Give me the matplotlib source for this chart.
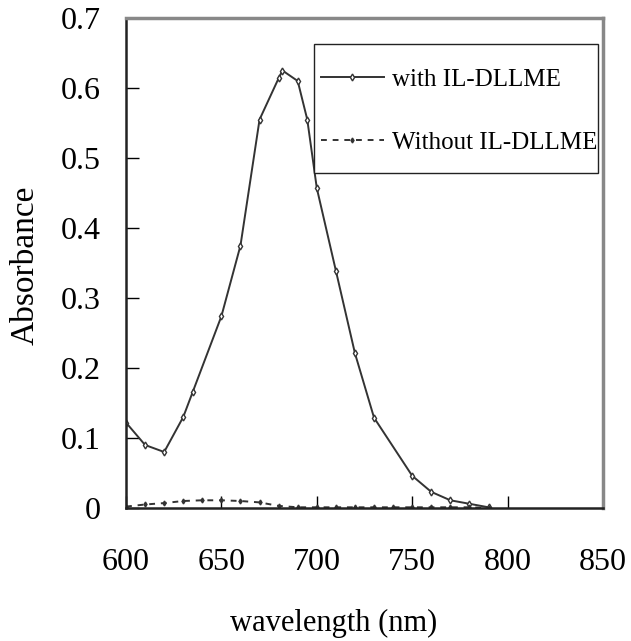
""" Absorption spectra with and without IL-DLLME. """

import matplotlib
matplotlib.use("Agg")
import matplotlib.pyplot as plt
from matplotlib.patches import Rectangle

plt.rcParams['font.family'] = ['Liberation Serif', 'DejaVu Serif']

# with IL-DLLME
wl_with = [600, 610, 620, 630, 635, 650, 660, 670, 680, 682, 690, 695,
           700, 710, 720, 730, 750, 760, 770, 780, 790]
abs_with = [0.122, 0.090, 0.080, 0.130, 0.166, 0.274, 0.375, 0.555, 0.614, 0.625,
            0.610, 0.555, 0.457, 0.339, 0.221, 0.129, 0.046, 0.023, 0.011, 0.006, 0.001]

# without IL-DLLME
wl_without = [600, 610, 620, 630, 640, 650, 660, 670, 680, 690, 700, 710,
              720, 730, 740, 750, 760, 770, 780, 790]
abs_without = [0.002, 0.005, 0.007, 0.010, 0.011, 0.011, 0.010, 0.008, 0.003, 0.001,
               0.001, 0.001, 0.001, 0.001, 0.001, 0.001, 0.001, 0.001, 0.001, 0.0]

x_ticks = [600, 650, 700, 750, 800, 850]
y_ticks = [0, 0.1, 0.2, 0.3, 0.4, 0.5, 0.6, 0.7]
y_tick_labels = ['0', '0.1', '0.2', '0.3', '0.4', '0.5', '0.6', '0.7']

fig = plt.figure(figsize=(6.31, 6.41), dpi=100)
ax = fig.add_axes([0.1997, 0.2075, 0.7559, 0.7644])

ax.plot(wl_with, abs_with, color='#333333', linewidth=1.4,
        marker='d', markersize=3.5, markerfacecolor='white',
        markeredgecolor='#333333', label='with IL-DLLME')
ax.plot(wl_without, abs_without, color='#333333', linewidth=1.4,
        linestyle=(0, (3, 3)), marker='d', markersize=2.5,
        label='Without IL-DLLME')

ax.set_xlim(600, 850)
ax.set_ylim(0, 0.7)
ax.set_xticks(x_ticks)
ax.set_yticks(y_ticks)
ax.set_yticklabels(y_tick_labels)
ax.tick_params(axis='both', direction='in', length=9, width=1, labelsize=23)
ax.tick_params(axis='x', pad=29)
ax.tick_params(axis='y', pad=18)

for side in ['top', 'right']:
    ax.spines[side].set_color('#888888')
    ax.spines[side].set_linewidth(2.5)
for side in ['left', 'bottom']:
    ax.spines[side].set_color('#222222')
    ax.spines[side].set_linewidth(1.8)

ax.set_xlabel('wavelength (nm)', fontsize=22)
ax.xaxis.set_label_coords(0.436, -0.205)
ax.set_ylabel('Absorbance', fontsize=24)
ax.yaxis.set_label_coords(-0.18, 0.496)

# legend box drawn separately so its padding matches the original
ax.add_patch(Rectangle((0.394, 0.684), 0.596, 0.263, transform=ax.transAxes,
                       facecolor='white', edgecolor='#222222', linewidth=1.0,
                       zorder=3))
leg = ax.legend(loc='upper left', bbox_to_anchor=(0.409, 0.897), fontsize=18,
                frameon=False, handlelength=2.5, labelspacing=1.62,
                borderpad=0, handletextpad=0.32, borderaxespad=0)
leg.set_zorder(4)

plt.savefig('out.png', dpi=100)
plt.close(fig)
